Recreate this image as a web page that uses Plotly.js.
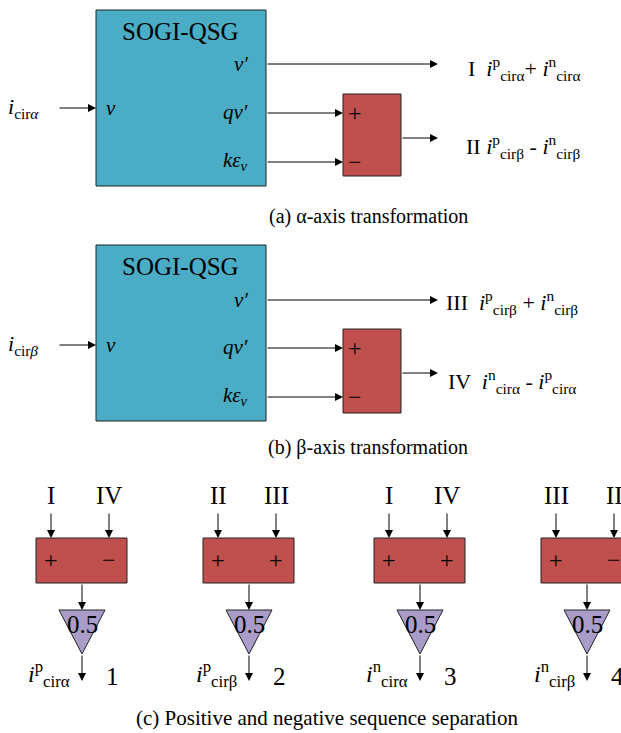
<!DOCTYPE html>
<html>
<head>
<meta charset="utf-8">
<script src="https://cdn.plot.ly/plotly-3.0.1.min.js"></script>
<style>html,body{margin:0;padding:0;background:#fff}</style>
</head>
<body>
<div id="chart" style="width:621px;height:733px"></div>
<script>
// ---------- content ----------
const blockTitle = 'SOGI-QSG';
const portOut = ['<i>v′</i>', '<i>qv′</i>', '<i>kε</i><sub><i>v</i></sub>'];
const portIn = '<i>v</i>';
const inputs = ['<i>i</i><sub>cir<i>α</i></sub>', '<i>i</i><sub>cir<i>β</i></sub>'];
const outputsA = ['I  <i>i</i><sup>p</sup><sub>cirα</sub>+ <i>i</i><sup>n</sup><sub>cirα</sub>',
                  'II <i>i</i><sup>p</sup><sub>cirβ</sub> - <i>i</i><sup>n</sup><sub>cirβ</sub>'];
const outputsB = ['III  <i>i</i><sup>p</sup><sub>cirβ</sub> + <i>i</i><sup>n</sup><sub>cirβ</sub>',
                  'IV  <i>i</i><sup>n</sup><sub>cirα</sub> - <i>i</i><sup>p</sup><sub>cirα</sub>'];
const sumSigns = ['+', '−'];
const captions = ['(a) α-axis transformation', '(b) β-axis transformation',
                  '(c) Positive and negative sequence separation'];
const sepInputs = [['I', 'IV'], ['II', 'III'], ['I', 'IV'], ['III', 'II']];
const sepSigns = [['+', '−'], ['+', '+'], ['+', '+'], ['+', '−']];
const sepGain = ['0.5', '0.5', '0.5', '0.5'];
const sepOutputs = ['<i>i</i><sup>p</sup><sub>cirα</sub>', '<i>i</i><sup>p</sup><sub>cirβ</sub>',
                    '<i>i</i><sup>n</sup><sub>cirα</sub>', '<i>i</i><sup>n</sup><sub>cirβ</sub>'];
const sepIndex = ['1', '2', '3', '4'];

// ---------- styling / geometry ----------
const BLUE = '#4BACC6', RED = '#C0504D', PURPLE = '#A99CC8';
const FONT = "'Liberation Serif', 'Times New Roman', serif";
const shapes = [], ann = [];

function arrow(x0, y0, x1, y1) {
  ann.push({x: x1, y: y1, ax: x0, ay: y0, xref: 'x', yref: 'y', axref: 'x', ayref: 'y',
            text: '', showarrow: true, arrowhead: 2, arrowsize: 1.6, arrowwidth: 1,
            arrowcolor: '#000', standoff: 0, startstandoff: 0});
}
function rect(x0, y0, x1, y1, color) {
  shapes.push({type: 'rect', x0, y0, x1, y1, fillcolor: color, line: {color: '#222', width: 1}, layer: 'below'});
}
function text(x, y, t, size, anchor) {
  ann.push({x, y, xref: 'x', yref: 'y', text: t, showarrow: false,
            xanchor: anchor || 'center', yanchor: 'middle',
            font: {family: FONT, size: size, color: '#000'}});
}

// Panels (a) and (b)
const panels = [
  {top: 10, bot: 186, title: 31, vp: 64, inY: 108, qv: 113, ke: 162, rt: 94, rb: 176, out2: 138,
   outs: outputsA, outX: [466, 464], outY: [68, 146], cap: 216, input: inputs[0]},
  {top: 245, bot: 421, title: 266, vp: 300, inY: 345, qv: 348, ke: 397, rt: 329, rb: 413, out2: 373,
   outs: outputsB, outX: [444, 446], outY: [302, 381], cap: 447, input: inputs[1]}
];
panels.forEach((p, k) => {
  rect(96, p.top, 266, p.bot, BLUE);
  text(180, p.title, blockTitle, 25);
  text(250, p.vp, portOut[0], 21, 'right');
  text(250, p.qv - 1, portOut[1], 21, 'right');
  text(250, p.ke - 1, portOut[2], 21, 'right');
  text(104, p.inY, portIn, 21, 'left');
  text(6, p.inY, p.input, 22, 'left');
  arrow(58, p.inY, 96, p.inY);
  arrow(266, p.vp, 438, p.vp);
  arrow(266, p.qv, 343, p.qv);
  arrow(266, p.ke, 343, p.ke);
  rect(343, p.rt, 401, p.rb, RED);
  text(355, p.qv, sumSigns[0], 24);
  text(355, p.ke, sumSigns[1], 24);
  arrow(401, p.out2, 438, p.out2);
  text(p.outX[0], p.outY[0], p.outs[0], 22, 'left');
  text(p.outX[1], p.outY[1], p.outs[1], 22, 'left');
  text(368, p.cap, captions[k], 20);
});

// Panel (c)
const boxX = [36, 203, 374, 541];
const W = 91;
boxX.forEach((bx, i) => {
  const xl = bx + 15, xr = bx + 73, xc = bx + 46;
  text(xl, 495, sepInputs[i][0], 25);
  text(xr, 495, sepInputs[i][1], 25);
  arrow(xl, 512, xl, 538);
  arrow(xr, 512, xr, 538);
  rect(bx, 538, bx + W, 583, RED);
  text(xl, 560, sepSigns[i][0], 24);
  text(xr, 560, sepSigns[i][1], 24);
  arrow(xc, 583, xc, 610);
  shapes.push({type: 'path', path: `M ${xc - 23},610 L ${xc + 23},610 L ${xc},654 Z`,
               fillcolor: PURPLE, line: {color: '#222', width: 1}});
  text(xc, 624, sepGain[i], 25);
  arrow(xc, 654, xc, 681);
  text(xc - 10, 674, sepOutputs[i], 24, 'right');
  text(xc + 30, 676, sepIndex[i], 25);
});
text(327, 718, captions[2], 21);

Plotly.newPlot('chart', [], {
  width: 621, height: 733,
  margin: {l: 0, r: 0, t: 0, b: 0},
  paper_bgcolor: '#fff', plot_bgcolor: '#fff',
  xaxis: {range: [0, 621], visible: false, fixedrange: true},
  yaxis: {range: [733, 0], visible: false, fixedrange: true},
  showlegend: false,
  shapes: shapes, annotations: ann
}, {staticPlot: true});
</script>
</body>
</html>
